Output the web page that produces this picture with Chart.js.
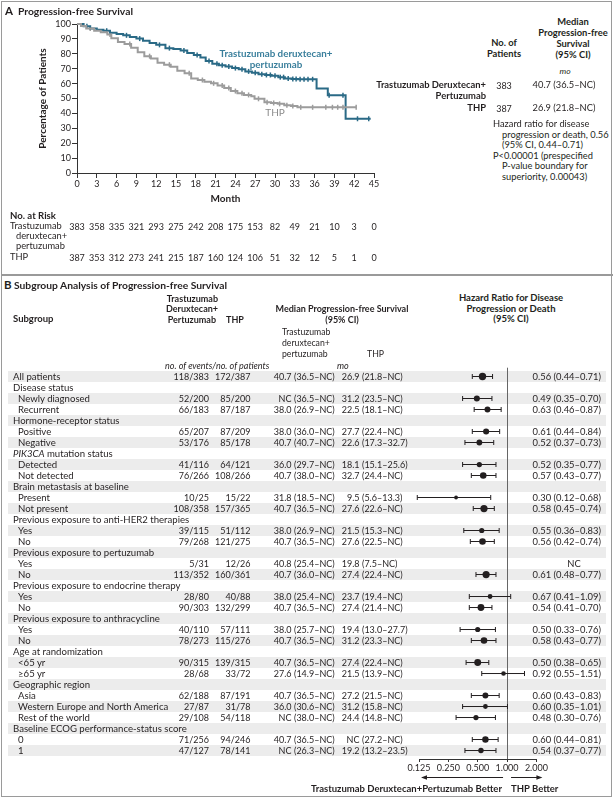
<!DOCTYPE html>
<html>
<head>
<meta charset="utf-8">
<script src="https://cdn.jsdelivr.net/npm/chart.js@4.4.1/dist/chart.umd.min.js"></script>
<style>
body { margin: 0; background: #fff; }
#fig { position: relative; width: 614px; height: 800px; font-family: Lato, "Open Sans", sans-serif; color: #231f20; font-size: 9px; overflow: hidden; }
.t { position: absolute; white-space: nowrap; line-height: 1; }
.b { font-weight: bold; }
.i { font-style: italic; }
.band { position: absolute; left: 8px; width: 598px; height: 11px; background: #ececec; }
#box { position: absolute; left: 1px; top: 1px; width: 609px; height: 794px; border: 1.5px solid #9a9a9a; }
#divider { position: absolute; left: 1px; top: 274px; width: 612px; height: 1.5px; background: #9a9a9a; }
canvas { position: absolute; }
</style>
</head>
<body>
<div id="fig">
  <div id="box"></div>
  <div id="divider"></div>
  <div id="bands"></div>
  <canvas id="km" width="390" height="212" style="left:0;top:0"></canvas>
  <canvas id="forest" width="180" height="430" style="left:395px;top:355px"></canvas>
  <div id="texts"></div>
</div>
<script>
// Panel A: Kaplan-Meier data
const riskMonths = [0, 3, 6, 9, 12, 15, 18, 21, 24, 27, 30, 33, 36, 39, 42, 45];
const atRiskTdxd = [383, 358, 335, 321, 293, 275, 242, 208, 175, 153, 82, 49, 21, 10, 3, 0];
const atRiskThp = [387, 353, 312, 273, 241, 215, 187, 160, 124, 106, 51, 32, 12, 5, 1, 0];

const kmTdxdTime = [0, 1.0, 2.0, 3.0, 4.0, 5.0, 6.0, 7.0, 8.0, 9.0, 10.0, 11.0, 12.0, 13.4, 14.6, 15.7, 16.7, 17.7, 18.7, 19.5, 20.5, 21.5, 22.5, 23.5, 24.5, 25.5, 26.5, 27.5, 28.5, 29.5, 30.5, 31.5, 32.5, 33.5, 36.3, 38.0, 40.7, 44.5];
const kmTdxdSurv = [100, 98.5, 97, 96.2, 95.5, 94.2, 93.3, 92.4, 91.3, 90.2, 88.8, 87.2, 86, 83.8, 83.2, 82.2, 80.6, 79.2, 77.6, 75.2, 73.4, 72.3, 71.4, 70.4, 69.6, 68.2, 67.2, 66.3, 65.8, 65.3, 64.3, 63.5, 63.1, 62.9, 56.7, 52.2, 36.4, 36.4];
const kmThpTime = [0, 0.6, 1.4, 2.6, 3.6, 4.6, 5.2, 6.2, 7.2, 8.2, 9.2, 10.2, 11.2, 12.2, 13.2, 14.2, 15.2, 16.3, 17.3, 18.3, 19.3, 20.3, 21.3, 22.3, 23.3, 24.3, 25.3, 26.4, 26.9, 28.4, 29.4, 30.4, 31.4, 32.4, 33.4, 42.3];
const kmThpSurv = [100, 98.6, 97, 95.5, 94.5, 93, 90.5, 88, 86.5, 84, 81, 78.4, 76.8, 74, 72.7, 71.3, 68.6, 67, 63.5, 62.4, 61.3, 60.2, 58.8, 57, 55, 53.5, 52.4, 51.5, 49.8, 47.5, 47, 46.4, 45.5, 45, 44.1, 44.1];
const censorTdxd = [1.5, 4.5, 7.5, 9.5, 12.5, 14, 16.2, 18.2, 20, 21.2, 22, 23, 24, 25, 26, 27, 28, 28.7, 29.3, 30, 30.8, 31.3, 32, 32.7, 33.2, 33.8, 34.4, 35, 35.7, 38.2, 40.3, 42.5, 44.2];
const censorThp = [2, 5, 8, 11, 14, 17, 19, 20.7, 22, 23, 24, 25, 26, 27.5, 28.8, 29.8, 30.7, 31.8, 32.7, 33.9, 35.7, 37.7, 38.7, 39.5, 40.3, 42.3];

// Panel B: subgroup table
const subgroups = ['All patients', 'Disease status', 'Newly diagnosed', 'Recurrent', 'Hormone-receptor status', 'Positive', 'Negative',
  'PIK3CA mutation status', 'Detected', 'Not detected', 'Brain metastasis at baseline', 'Present', 'Not present',
  'Previous exposure to anti-HER2 therapies', 'Yes', 'No', 'Previous exposure to pertuzumab', 'Yes', 'No',
  'Previous exposure to endocrine therapy', 'Yes', 'No', 'Previous exposure to anthracycline', 'Yes', 'No',
  'Age at randomization', '<65 yr', '≥65 yr', 'Geographic region', 'Asia', 'Western Europe and North America', 'Rest of the world',
  'Baseline ECOG performance-status score', '0', '1'];
const indentLevel = [0, 0, 1, 1, 0, 1, 1, 0, 1, 1, 0, 1, 1, 0, 1, 1, 0, 1, 1, 0, 1, 1, 0, 1, 1, 0, 1, 1, 0, 1, 1, 1, 0, 1, 1];
const eventsTdxd = ['118/383', '', '52/200', '66/183', '', '65/207', '53/176', '', '41/116', '76/266', '', '10/25', '108/358', '', '39/115', '79/268', '', '5/31', '113/352', '', '28/80', '90/303', '', '40/110', '78/273', '', '90/315', '28/68', '', '62/188', '27/87', '29/108', '', '71/256', '47/127'];
const eventsThp = ['172/387', '', '85/200', '87/187', '', '87/209', '85/178', '', '64/121', '108/266', '', '15/22', '157/365', '', '51/112', '121/275', '', '12/26', '160/361', '', '40/88', '132/299', '', '57/111', '115/276', '', '139/315', '33/72', '', '87/191', '31/78', '54/118', '', '94/246', '78/141'];
const medianTdxd = ['40.7 (36.5–NC)', '', 'NC (36.5–NC)', '38.0 (26.9–NC)', '', '38.0 (36.0–NC)', '40.7 (40.7–NC)', '', '36.0 (29.7–NC)', '40.7 (38.0–NC)', '', '31.8 (18.5–NC)', '40.7 (36.5–NC)', '', '38.0 (26.9–NC)', '40.7 (36.5–NC)', '', '40.8 (25.4–NC)', '40.7 (36.0–NC)', '', '38.0 (25.4–NC)', '40.7 (36.5–NC)', '', '38.0 (25.7–NC)', '40.7 (36.5–NC)', '', '40.7 (36.5–NC)', '27.6 (14.9–NC)', '', '40.7 (36.5–NC)', '36.0 (30.6–NC)', 'NC (38.0–NC)', '', '40.7 (36.5–NC)', 'NC (26.3–NC)'];
const medianThp = ['26.9 (21.8–NC)', '', '31.2 (23.5–NC)', '22.5 (18.1–NC)', '', '27.7 (22.4–NC)', '22.6 (17.3–32.7)', '', '18.1 (15.1–25.6)', '32.7 (24.4–NC)', '', '9.5 (5.6–13.3)', '27.6 (22.6–NC)', '', '21.5 (15.3–NC)', '27.6 (22.5–NC)', '', '19.8 (7.5–NC)', '27.4 (22.4–NC)', '', '23.7 (19.4–NC)', '27.4 (21.4–NC)', '', '19.4 (13.0–27.7)', '31.2 (23.3–NC)', '', '27.4 (22.4–NC)', '21.5 (13.9–NC)', '', '27.2 (21.5–NC)', '31.2 (15.8–NC)', '24.4 (14.8–NC)', '', 'NC (27.2–NC)', '19.2 (13.2–23.5)'];
const hazard = [0.56, null, 0.49, 0.63, null, 0.61, 0.52, null, 0.52, 0.57, null, 0.30, 0.58, null, 0.55, 0.56, null, null, 0.61, null, 0.67, 0.54, null, 0.50, 0.58, null, 0.50, 0.92, null, 0.60, 0.60, 0.48, null, 0.60, 0.54];
const hazardLo = [0.44, null, 0.35, 0.46, null, 0.44, 0.37, null, 0.35, 0.43, null, 0.12, 0.45, null, 0.36, 0.42, null, null, 0.48, null, 0.41, 0.41, null, 0.33, 0.43, null, 0.38, 0.55, null, 0.43, 0.35, 0.30, null, 0.44, 0.37];
const hazardHi = [0.71, null, 0.70, 0.87, null, 0.84, 0.73, null, 0.77, 0.77, null, 0.68, 0.74, null, 0.83, 0.74, null, null, 0.77, null, 1.09, 0.70, null, 0.76, 0.77, null, 0.65, 1.51, null, 0.83, 1.01, 0.76, null, 0.81, 0.77];
const hrTicks = [0.125, 0.25, 0.5, 1, 2];

const TEAL = '#2a6a86';
const GREY = '#9c9c9c';
const INK = '#231f20';

Chart.defaults.font.family = 'Lato, "Open Sans", sans-serif';
Chart.defaults.font.size = 9;
Chart.defaults.color = INK;

const texts = document.getElementById('texts');
function put(str, x, y, opt) {
    opt = opt || {};
    let d = document.createElement('div');
    let size = opt.size || 9;
    d.className = 't' + (opt.bold ? ' b' : '') + (opt.italic ? ' i' : '');
    d.style.fontSize = size + 'px';
    d.style.top = (y - size / 2) + 'px';
    d.style.left = x + 'px';
    if (opt.color) d.style.color = opt.color;
    if (opt.align === 'r') d.style.transform = 'translateX(-100%)';
    if (opt.align === 'c') d.style.transform = 'translateX(-50%)';
    d.innerHTML = str;
    texts.appendChild(d);
}

function survAt(times, surv, t) {
    let s = surv[0];
    for (let i = 0; i < times.length; i++) {
        if (times[i] <= t) s = surv[i];
    }
    return s;
}

// ---------- Panel A ----------
let kmChart = new Chart(document.getElementById('km'), {
    type: 'line',
    data: {
        datasets: [
            { data: kmThpTime.map((t, i) => ({ x: t, y: kmThpSurv[i] })), stepped: true, borderColor: GREY, borderWidth: 2, pointRadius: 0, clip: 5 },
            { data: kmTdxdTime.map((t, i) => ({ x: t, y: kmTdxdSurv[i] })), stepped: true, borderColor: TEAL, borderWidth: 2, pointRadius: 0, clip: 5 },
            { type: 'scatter', data: censorThp.map(t => ({ x: t, y: survAt(kmThpTime, kmThpSurv, t) })), pointStyle: 'line', pointRotation: 90, pointRadius: 2.5, pointBorderColor: GREY, pointBorderWidth: 1.5, clip: 5 },
            { type: 'scatter', data: censorTdxd.map(t => ({ x: t, y: survAt(kmTdxdTime, kmTdxdSurv, t) })), pointStyle: 'line', pointRotation: 90, pointRadius: 2.5, pointBorderColor: TEAL, pointBorderWidth: 1.5, clip: 5 }
        ]
    },
    options: {
        responsive: false,
        animation: false,
        layout: { padding: { top: 24, right: 16, left: 0, bottom: 0 } },
        plugins: { legend: { display: false }, tooltip: { enabled: false } },
        scales: {
            x: {
                type: 'linear', min: 0, max: 45,
                ticks: { stepSize: 3, padding: 1, maxRotation: 0, font: { size: 9 } },
                grid: { drawOnChartArea: false, tickLength: 5, color: '#333' },
                border: { color: '#333' },
                title: { display: true, text: 'Month', font: { size: 10, weight: 'bold' }, padding: { top: 0, bottom: 7 } },
                afterFit: s => { s.height = 39; }
            },
            y: {
                min: 0, max: 100,
                ticks: { stepSize: 10, padding: 1, font: { size: 9 } },
                grid: { drawOnChartArea: false, tickLength: 5, color: '#333' },
                border: { color: '#333' },
                title: { display: true, text: 'Percentage of Patients', font: { size: 10, weight: 'bold' }, padding: { top: 37, bottom: 0 } },
                afterFit: s => { s.width = 77; }
            }
        }
    }
});

put('A', 5, 11, { bold: true, size: 11.5 });
put('Progression-free Survival', 18, 11, { bold: true, size: 10.3 });
put('Trastuzumab deruxtecan+', 276, 54, { bold: true, align: 'c', color: '#3a7f9c', size: 9.8 });
put('pertuzumab', 276, 65, { bold: true, align: 'c', color: '#3a7f9c', size: 9.8 });
put('THP', 275, 112, { align: 'c', color: '#8c8c8c', size: 10 });

// right-hand summary table
['Median', 'Progression-free', 'Survival', '(95% CI)'].forEach((s, i) => put(s, 573, 22 + i * 11, { bold: true, align: 'c', size: 9.4 }));
put('No. of', 504, 43, { bold: true, align: 'c', size: 9.4 });
put('Patients', 504, 54, { bold: true, align: 'c', size: 9.4 });
put('mo', 565, 71, { italic: true, align: 'c', size: 8.5 });
put('Trastuzumab Deruxtecan+', 486, 85, { bold: true, align: 'r', size: 9.4 });
put('Pertuzumab', 486, 96, { bold: true, align: 'r', size: 9.4 });
put('383', 504, 85, { align: 'c' });
put('40.7 (36.5–NC)', 564, 85, { align: 'c', size: 9.3 });
put('THP', 486, 108, { bold: true, align: 'r', size: 9.4 });
put('387', 504, 108, { align: 'c' });
put('26.9 (21.8–NC)', 564, 108, { align: 'c', size: 9.3 });
put('Hazard ratio for disease', 493, 124, { size: 9.3 });
put('progression or death, 0.56', 502, 135, { size: 9.3 });
put('(95% CI, 0.44–0.71)', 502, 145, { size: 9.3 });
put('P&lt;0.00001 (prespecified', 493, 156, { size: 9.3 });
put('P-value boundary for', 502, 166, { size: 9.3 });
put('superiority, 0.00043)', 502, 177, { size: 9.3 });

// number at risk
put('No. at Risk', 10, 216, { bold: true, size: 9.6 });
put('Trastuzumab', 10, 226, { size: 9.3 });
put('deruxtecan+', 16, 236, { size: 9.3 });
put('pertuzumab', 16, 246, { size: 9.3 });
put('THP', 10, 257, { size: 9.3 });
riskMonths.forEach((m, i) => {
    let px = kmChart.scales.x.getPixelForValue(m);
    put(String(atRiskTdxd[i]), px, 226, { align: 'c' });
    put(String(atRiskThp[i]), px, 257, { align: 'c' });
});

// ---------- Panel B ----------
const rowY = i => 376.5 + 11 * i;
const bands = document.getElementById('bands');
subgroups.forEach((s, i) => {
    if (i % 2 === 0) {
        let b = document.createElement('div');
        b.className = 'band';
        b.style.top = (rowY(i) - 5.5) + 'px';
        bands.appendChild(b);
    }
});

put('B', 4, 285, { bold: true, size: 11.5 });
put('Subgroup Analysis of Progression-free Survival', 14, 285, { bold: true, size: 10.3 });
put('Trastuzumab', 218, 298, { bold: true, align: 'r' });
put('Deruxtecan+', 218, 308.5, { bold: true, align: 'r' });
put('Pertuzumab', 216, 319, { bold: true, align: 'r' });
put('THP', 226, 319, { bold: true });
put('Subgroup', 13, 319, { bold: true, size: 9.5 });
put('Median Progression-free Survival', 342, 308.5, { bold: true, align: 'c' });
put('(95% CI)', 342, 319, { bold: true, align: 'c' });
put('Trastuzumab', 282, 332, { size: 8.7 });
put('deruxtecan+', 282, 343, { size: 8.7 });
put('pertuzumab', 282, 354, { size: 8.7 });
put('THP', 367, 354, { size: 8.7 });
put('no. of events/no. of patients', 165, 365, { italic: true });
put('mo', 337, 365, { italic: true });
put('Hazard Ratio for Disease', 511, 298, { bold: true, align: 'c', size: 9.5 });
put('Progression or Death', 511, 308.5, { bold: true, align: 'c', size: 9.5 });
put('(95% CI)', 511, 319, { bold: true, align: 'c', size: 9.5 });

function putMedian(str, numEnd, y) {
    if (!str) return;
    let k = str.indexOf(' ');
    put(str.slice(0, k), numEnd, y, { align: 'r' });
    put(str.slice(k + 1), numEnd + 2.5, y);
}

subgroups.forEach((s, i) => {
    let y = rowY(i);
    let label = s.replace('<', '&lt;').replace('PIK3CA', '<i>PIK3CA</i>');
    put(label, indentLevel[i] ? 18 : 13, y, { size: 9.6 });
    if (eventsTdxd[i]) put(eventsTdxd[i], 209, y, { align: 'r' });
    if (eventsThp[i]) put(eventsThp[i], 250.5, y, { align: 'r' });
    putMedian(medianTdxd[i], 291.5, y);
    putMedian(medianThp[i], 359.5, y);
    if (hazard[i] !== null) {
        put(hazard[i].toFixed(2) + ' (' + hazardLo[i].toFixed(2) + '–' + hazardHi[i].toFixed(2) + ')', 601, y, { align: 'r', size: 9.4 });
    } else if (eventsTdxd[i]) {
        put('NC', 574, y, { align: 'c', size: 9.4 });
    }
});

put('Trastuzumab Deruxtecan+Pertuzumab Better', 502, 789, { bold: true, align: 'r', size: 9.5 });
put('THP Better', 511, 789, { bold: true, size: 9.5 });

// forest plot
let ciSegments = [];
let caps = [];
let points = [];
let dotSize = [];
subgroups.forEach((s, i) => {
    if (hazard[i] === null) return;
    ciSegments.push({ x: hazardLo[i], y: i }, { x: hazardHi[i], y: i }, { x: null, y: null });
    caps.push({ x: hazardLo[i], y: i }, { x: hazardHi[i], y: i });
    points.push({ x: hazard[i], y: i });
    let n = (+eventsTdxd[i].split('/')[1]) + (+eventsThp[i].split('/')[1]);
    dotSize.push(1.3 + 2.4 * Math.sqrt(n / 770));
});

const arrows = {
    id: 'arrows',
    afterDraw(chart) {
        let ctx = chart.ctx;
        let xs = chart.scales.x;
        let y = xs.top + 18.5;
        let x1 = xs.getPixelForValue(1);
        let xl = xs.getPixelForValue(0.125) + 2;
        let xr = xs.getPixelForValue(2) + 6;
        ctx.save();
        ctx.strokeStyle = INK;
        ctx.fillStyle = INK;
        ctx.lineWidth = 1;
        ctx.beginPath();
        ctx.moveTo(x1 - 4, y); ctx.lineTo(xl + 4, y);
        ctx.moveTo(x1 + 4, y); ctx.lineTo(xr - 4, y);
        ctx.stroke();
        ctx.beginPath();
        ctx.moveTo(xl, y); ctx.lineTo(xl + 6, y - 2.2); ctx.lineTo(xl + 6, y + 2.2); ctx.closePath();
        ctx.moveTo(xr, y); ctx.lineTo(xr - 6, y - 2.2); ctx.lineTo(xr - 6, y + 2.2); ctx.closePath();
        ctx.fill();
        ctx.restore();
    }
};

let forestChart = new Chart(document.getElementById('forest'), {
    type: 'scatter',
    data: {
        datasets: [
            { type: 'line', data: ciSegments, borderColor: INK, borderWidth: 1, pointRadius: 0, spanGaps: false, clip: false },
            { data: caps, pointStyle: 'line', pointRotation: 90, pointRadius: 2.5, pointBorderColor: INK, pointBorderWidth: 1, clip: false },
            { data: points, pointStyle: 'circle', pointRadius: dotSize, pointBackgroundColor: INK, pointBorderWidth: 0, clip: false }
        ]
    },
    options: {
        responsive: false,
        animation: false,
        layout: { padding: { left: 24, right: 38.6, top: 12.7, bottom: 0 } },
        plugins: { legend: { display: false }, tooltip: { enabled: false } },
        scales: {
            x: {
                type: 'logarithmic', min: 0.125, max: 2,
                afterBuildTicks: s => { s.ticks = hrTicks.map(v => ({ value: v })); },
                ticks: { callback: v => Number(v).toFixed(3), autoSkip: false, maxRotation: 0, padding: 1, font: { size: 9 } },
                grid: { color: c => (c.tick && c.tick.value === 1) ? '#666' : 'rgba(0,0,0,0)', tickColor: '#333', tickLength: 3, lineWidth: 1 },
                border: { color: '#333' },
                afterFit: s => { s.height = 26; }
            },
            y: { type: 'linear', reverse: true, min: -0.8, max: 34.77, display: false }
        }
    },
    plugins: [arrows]
});
</script>
</body>
</html>
